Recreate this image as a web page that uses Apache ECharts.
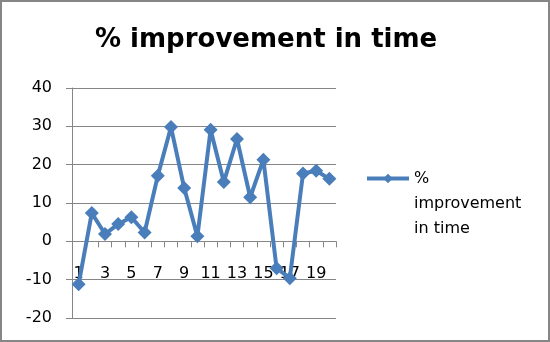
<!DOCTYPE html>
<html>
<head>
<meta charset="utf-8">
<script src="https://cdn.jsdelivr.net/npm/echarts@6/dist/echarts.min.js"></script>
<style>
html,body{margin:0;padding:0;background:#fff;}
#chart{width:550px;height:342px;}
</style>
</head>
<body>
<div id="chart"></div>
<script>
const titleText = '% improvement in time';
const seriesName = '% improvement in time';
const legendLines = ['%', 'improvement', 'in time'];
const categories = ['1','2','3','4','5','6','7','8','9','10','11','12','13','14','15','16','17','18','19','20'];
const values = [-11.2, 7.4, 1.9, 4.5, 6.3, 2.3, 17.1, 29.8, 13.9, 1.3, 29.1, 15.5, 26.7, 11.5, 21.3, -7.0, -9.6, 17.7, 18.4, 16.3];
const yMin = -20, yMax = 40, yStep = 10;

const gridTop = 88, gridBottom = 24, chartH = 342;
const plotH = chartH - gridTop - gridBottom;
const zeroOffset = -plotH * (0 - yMin) / (yMax - yMin);

const chart = echarts.init(document.getElementById('chart'), null, {renderer: 'canvas'});
const font = 'DejaVu Sans';
chart.setOption({
  animation: false,
  backgroundColor: '#ffffff',
  title: {
    text: titleText,
    left: 90,
    top: 22,
    textStyle: {fontFamily: font, fontWeight: 'bold', fontSize: 26, color: '#000'}
  },
  legend: {
    data: [seriesName],
    left: 365,
    top: 116,
    padding: 0,
    itemWidth: 42,
    itemHeight: 12,
    itemGap: 0,
    lineStyle: {width: 4},
    formatter: function () { return '\n\n' + legendLines.join('\n'); },
    textStyle: {fontFamily: font, fontSize: 16, color: '#000', lineHeight: 25}
  },
  grid: {left: 72, right: 214, top: gridTop, bottom: gridBottom, containLabel: false},
  xAxis: {
    type: 'category',
    data: categories,
    boundaryGap: true,
    position: 'bottom',
    offset: zeroOffset,
    axisLine: {onZero: false, lineStyle: {color: '#868686', width: 1}},
    axisTick: {show: true, inside: false, length: 6, interval: 0, lineStyle: {color: '#868686'}},
    axisLabel: {interval: 1, margin: 25, fontFamily: font, fontSize: 16, color: '#000'},
    splitLine: {show: false}
  },
  yAxis: {
    type: 'value',
    min: yMin, max: yMax, interval: yStep,
    axisLine: {show: true, lineStyle: {color: '#868686', width: 1}},
    axisTick: {show: true, length: 6, lineStyle: {color: '#868686'}},
    axisLabel: {margin: 20, fontFamily: font, fontSize: 16, color: '#000'},
    splitLine: {show: true, lineStyle: {color: '#868686', width: 1}}
  },
  series: [{
    name: seriesName,
    type: 'line',
    data: values,
    symbol: 'diamond',
    symbolSize: 14,
    showAllSymbol: true,
    z: 5,
    lineStyle: {color: '#4a7ebb', width: 4},
    itemStyle: {color: '#4a7ebb'}
  }],
  graphic: [{
    type: 'rect',
    shape: {x: 1, y: 1, width: 548, height: 340},
    style: {fill: 'none', stroke: '#868686', lineWidth: 2},
    silent: true
  }]
});
</script>
</body>
</html>
